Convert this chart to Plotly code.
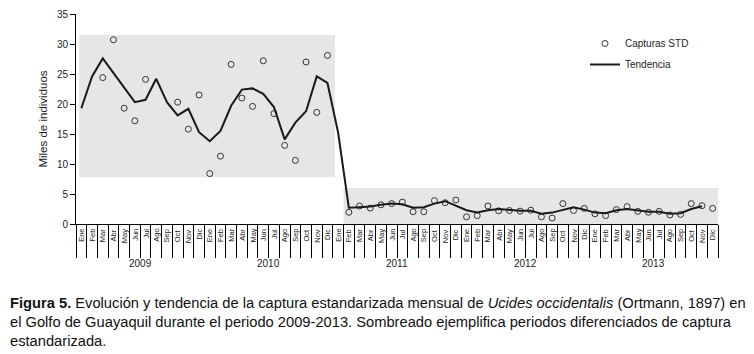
import plotly.graph_objects as go

meses = ["Ene", "Feb", "Mar", "Abr", "May", "Jun", "Jul", "Ago", "Sep", "Oct", "Nov", "Dic"]
anios = ["2009", "2010", "2011", "2012", "2013"]

capturas_std = [
    None, None, 24.4, 30.7, 19.3, 17.2, 24.1, None, None, 20.3, 15.8, 21.5,
    8.4, 11.3, 26.6, 21.0, 19.6, 27.2, 18.4, 13.1, 10.6, 27.0, 18.6, 28.1,
    None, 1.95, 3.0, 2.65, 3.2, 3.4, 3.65, 2.05, 2.05, 3.9, 3.55, 4.0,
    1.2, 1.4, 3.0, 2.2, 2.25, 2.15, 2.3, 1.2, 1.0, 3.4, 2.25, 2.6,
    1.7, 1.4, 2.4, 2.9, 2.1, 1.95, 2.1, 1.5, 1.6, 3.4, 3.05, 2.6,
]
tendencia = [
    19.3, 24.6, 27.6, 25.1, 22.7, 20.3, 20.7, 24.2, 20.3, 18.1, 19.2, 15.3,
    13.8, 15.5, 19.7, 22.4, 22.6, 21.7, 19.5, 14.1, 16.9, 18.8, 24.6, 23.5,
    15.2, 2.7, 2.8, 2.9, 3.2, 3.4, 3.3, 2.7, 2.8, 3.4, 3.8, 3.05,
    2.3, 1.9, 2.3, 2.5, 2.3, 2.2, 2.2, 1.7, 1.9, 2.3, 2.8, 2.4,
    1.9, 1.8, 2.3, 2.5, 2.3, 2.05, 2.05, 1.7, 1.8, 2.5, 2.95, None,
]

# shaded periods: (x0, x1, y0, y1) in month-index / value units
periodo1 = (-0.2, 23.7, 7.8, 31.5)
periodo2 = (24.5, 59.55, 0.0, 6.0)

n = len(meses) * len(anios)
xs = list(range(n))

fig = go.Figure()
for (x0, x1, y0, y1) in (periodo1, periodo2):
    fig.add_shape(type="rect", x0=x0, x1=x1, y0=y0, y1=y1, xref="x", yref="y",
                  fillcolor="#e6e6e6", line=dict(width=0), layer="below")

fig.add_trace(go.Scatter(
    x=xs, y=capturas_std, mode="markers", name="Capturas STD", legendgroup="a",
    marker=dict(symbol="circle-open", size=6, color="#333333", line=dict(width=1, color="#333333")),
))
fig.add_trace(go.Scatter(
    x=xs, y=tendencia, mode="lines", name="Tendencia", legendgroup="b",
    line=dict(color="#1a1a1a", width=2),
))

H = 210.0  # plot height in px
W = 642.0  # plot width in px
for i in range(n):
    fig.add_annotation(x=i, y=-3 / H, xref="x", yref="paper", text=meses[i % 12],
                       textangle=-90, showarrow=False, xanchor="center", yanchor="top",
                       font=dict(size=7.5, color="#222222"))
for k, a in enumerate(anios):
    fig.add_annotation(x=12 * k + 5.5, y=-39 / H, xref="x", yref="paper", text=a,
                       showarrow=False, xanchor="center", yanchor="middle",
                       font=dict(size=10, color="#222222"))

caption = ("<b>Figura 5.</b> Evolución y tendencia de la captura estandarizada mensual de "
           "<i>Ucides occidentalis</i> (Ortmann, 1897) en<br>el Golfo de Guayaquil durante el periodo "
           "2009-2013. Sombreado ejemplifica periodos diferenciados de captura<br>estandarizada.")
fig.add_annotation(x=(8 - 76) / W, y=-(293 - 224) / H, xref="paper", yref="paper",
                   text=caption, showarrow=False, xanchor="left", yanchor="top", align="left",
                   font=dict(family="Liberation Sans, Arial, sans-serif", size=14.7, color="#111111"))

fig.update_layout(
    width=746, height=346,
    margin=dict(l=68, r=36, t=6, b=130, autoexpand=False),
    plot_bgcolor="white", paper_bgcolor="white",
    font=dict(family="Liberation Sans, Arial, sans-serif", size=10, color="#222222"),
    showlegend=True,
    legend=dict(x=(585 - 76) / W, y=1 - (29 - 14) / H, xanchor="left", yanchor="top",
                bgcolor="rgba(0,0,0,0)", font=dict(size=10), tracegroupgap=2),
    xaxis=dict(
        range=[-0.5, n - 0.5], showgrid=False, zeroline=False, automargin=False,
        showline=True, linecolor="black", linewidth=1,
        tickmode="array", tickvals=[12 * k - 0.5 for k in range(len(anios) + 1)],
        ticktext=[""] * (len(anios) + 1),
        ticks="outside", ticklen=46, tickcolor="black", tickwidth=1,
        minor=dict(tickmode="array", tickvals=[i - 0.5 for i in range(n + 1)],
                   ticks="outside", ticklen=33, tickcolor="black", tickwidth=1),
    ),
    yaxis=dict(
        range=[0, 35], dtick=5, showgrid=False, zeroline=False, automargin=False,
        showline=True, linecolor="black", linewidth=1,
        ticks="outside", ticklen=5, tickcolor="black",
        tickfont=dict(size=10, color="#222222"),
        title=dict(text="Miles de individuos", font=dict(size=11.5, color="#222222"), standoff=6),
    ),
)

fig.write_html("out.html")
